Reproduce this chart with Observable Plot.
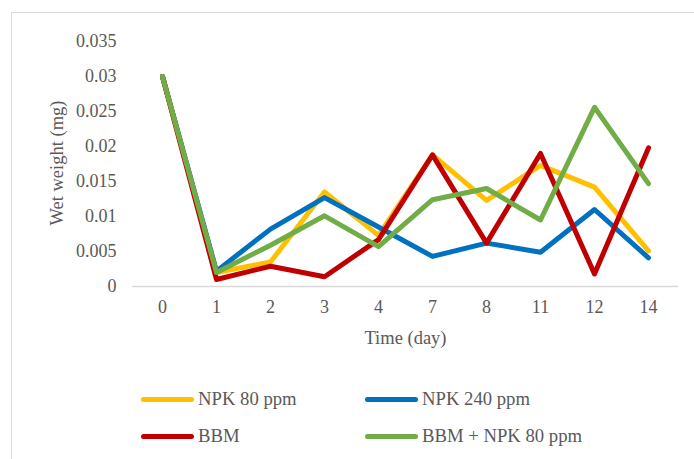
<!DOCTYPE html>
<html>
<head>
<meta charset="utf-8">
<script src="https://cdn.jsdelivr.net/npm/d3@7"></script>
<script src="https://cdn.jsdelivr.net/npm/@observablehq/plot@0.6"></script>
<style>
  html, body { margin: 0; padding: 0; background: #fff; }
  #wrap { position: relative; width: 694px; height: 459px; overflow: hidden; font-family: "Liberation Serif", "Times New Roman", serif; }
  #frame { position: absolute; left: 11px; top: 12px; width: 720px; height: 480px; border: 1.5px solid #d9d9d9; box-sizing: border-box; }
  #chart { position: absolute; left: 0; top: 0; }
  .leg { position: absolute; display: flex; align-items: center; font-size: 18.7px; color: #595959; white-space: nowrap; }
  .sw { width: 53px; height: 5px; border-radius: 3px; margin-right: 4px; }
</style>
</head>
<body>
<div id="wrap">
  <div id="frame"></div>
  <div id="chart"></div>
  <div id="legend"></div>
</div>
<script>
const days = ["0", "1", "2", "3", "4", "7", "8", "11", "12", "14"];
const seriesNames = ["NPK 80 ppm", "NPK 240 ppm", "BBM", "BBM + NPK 80 ppm"];
const colors = ["#FFC000", "#0070C0", "#C00000", "#70AD47"];
const npk80 = [0.03, 0.002, 0.0035, 0.0135, 0.0073, 0.0188, 0.0123, 0.0173, 0.0142, 0.0051];
const npk240 = [0.03, 0.0022, 0.0082, 0.0127, 0.0085, 0.0043, 0.0062, 0.0049, 0.011, 0.0041];
const bbm = [0.03, 0.001, 0.0029, 0.0014, 0.0067, 0.0188, 0.0062, 0.019, 0.0018, 0.0198];
const bbmNpk80 = [0.03, 0.002, 0.0059, 0.0101, 0.0057, 0.0124, 0.014, 0.0095, 0.0256, 0.0147];
const yTicks = [0, 0.005, 0.01, 0.015, 0.02, 0.025, 0.03, 0.035];
const yTickLabels = ["0", "0.005", "0.01", "0.015", "0.02", "0.025", "0.03", "0.035"];

const allSeries = [npk80, npk240, bbm, bbmNpk80];
const data = [];
allSeries.forEach((vals, si) => {
  vals.forEach((v, i) => data.push({series: seriesNames[si], day: days[i], value: v}));
});

const font = "Liberation Serif, Times New Roman, serif";
const chart = Plot.plot({
  width: 694,
  height: 360,
  marginLeft: 132,
  marginRight: 16,
  marginTop: 41,
  marginBottom: 74,
  style: {fontFamily: font, fontSize: "18px", color: "#595959", background: "transparent", overflow: "visible"},
  x: {type: "point", domain: days, padding: 0.5},
  y: {domain: [0, 0.035]},
  color: {domain: seriesNames, range: colors},
  marks: [
    Plot.ruleY([0], {stroke: "#d9d9d9", strokeWidth: 1.5}),
    Plot.axisY({ticks: yTicks, tickFormat: d => yTickLabels[yTicks.indexOf(d)], tickSize: 0, tickPadding: 16, label: null, fill: "#595959", fontSize: 18}),
    Plot.axisX({tickSize: 0, tickPadding: 14, label: null, fill: "#595959", fontSize: 18}),
    Plot.line(data, {x: "day", y: "value", z: "series", stroke: "series", strokeWidth: 5, strokeLinecap: "round", strokeLinejoin: "round"}),
    Plot.text(["Wet weight (mg)"], {frameAnchor: "left", dx: -75, dy: -1, rotate: -90, text: d => d, fill: "#595959", fontSize: 18.5, textAnchor: "middle", lineAnchor: "middle"}),
    Plot.text(["Time (day)"], {frameAnchor: "bottom", dy: 52, text: d => d, fill: "#595959", fontSize: 18.5, textAnchor: "middle", lineAnchor: "middle"})
  ]
});
document.getElementById("chart").appendChild(chart);

const legendPos = [[141, 399], [365, 399], [141, 436], [365, 436]];
const leg = document.getElementById("legend");
seriesNames.forEach((name, i) => {
  const item = document.createElement("div");
  item.className = "leg";
  item.style.left = legendPos[i][0] + "px";
  item.style.top = (legendPos[i][1] - 11) + "px";
  item.style.height = "22px";
  const sw = document.createElement("div");
  sw.className = "sw";
  sw.style.background = colors[i];
  item.appendChild(sw);
  const t = document.createElement("span");
  t.textContent = name;
  item.appendChild(t);
  leg.appendChild(item);
});
</script>
</body>
</html>
